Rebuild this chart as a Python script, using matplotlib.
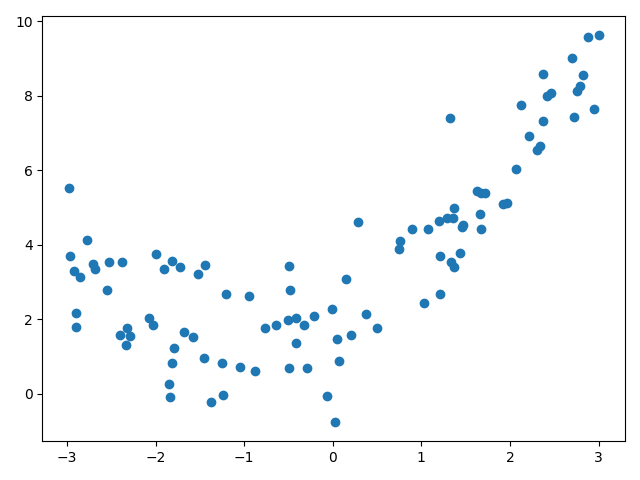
import matplotlib
matplotlib.use("Agg")
import matplotlib.pyplot as plt
import numpy as np

# Scatter data
x = np.array([
    -2.98, -2.77, -2.97, -2.92, -2.85, -2.71, -2.69, -2.53, -2.38, -2.00,
    -1.90, -1.81, -1.72, -1.52, -1.44, -2.55, -2.90, -2.90, -2.07, -2.03,
    -2.32, -2.40, -2.29, -2.33, -1.68, -1.58, -1.79, -1.81, -1.85, -1.84,
    -1.45, -1.25, -1.37, -1.24, -1.20, -0.95, -1.05, -0.88, -0.77, -0.64,
    -0.51, -0.49, -0.48, -0.49, -0.41, -0.32, -0.41, -0.29, -0.21, -0.07,
    -0.01, 0.02, 0.05, 0.07, 0.15, 0.20, 0.29, 0.37, 0.50, 0.75,
    0.76, 0.89, 1.07, 1.03, 1.21, 1.21, 1.20, 1.32, 1.29, 1.36,
    1.37, 1.33, 1.37, 1.44, 1.46, 1.47, 1.63, 1.67, 1.72, 1.66,
    1.67, 1.92, 1.97, 2.07, 2.12, 2.21, 2.31, 2.34, 2.37, 2.37,
    2.42, 2.46, 2.70, 2.72, 2.76, 2.79, 2.82, 2.88, 2.95, 3.00,
])
y = np.array([
    5.52, 4.13, 3.70, 3.30, 3.14, 3.49, 3.35, 3.54, 3.54, 3.75,
    3.35, 3.57, 3.40, 3.22, 3.46, 2.79, 2.17, 1.80, 2.04, 1.85,
    1.77, 1.58, 1.55, 1.31, 1.66, 1.53, 1.23, 0.83, 0.27, -0.08,
    0.97, 0.83, -0.21, -0.03, 2.68, 2.63, 0.72, 0.62, 1.77, 1.85,
    1.98, 3.43, 2.79, 0.70, 2.04, 1.85, 1.37, 0.70, 2.09, -0.05,
    2.28, -0.75, 1.47, 0.88, 3.08, 1.58, 4.61, 2.14, 1.77, 3.89,
    4.10, 4.42, 4.42, 2.44, 2.68, 3.70, 4.64, 7.40, 4.72, 4.72,
    4.99, 3.54, 3.40, 3.78, 4.48, 4.53, 5.44, 5.39, 5.39, 4.83,
    4.42, 5.09, 5.12, 6.03, 7.75, 6.92, 6.54, 6.65, 8.58, 7.32,
    7.99, 8.07, 9.01, 7.43, 8.12, 8.26, 8.55, 9.57, 7.64, 9.62,
])

fig, ax = plt.subplots(figsize=(6.4, 4.8), dpi=100)
ax.scatter(x, y)
fig.tight_layout()
fig.savefig("out.png")
plt.close(fig)
